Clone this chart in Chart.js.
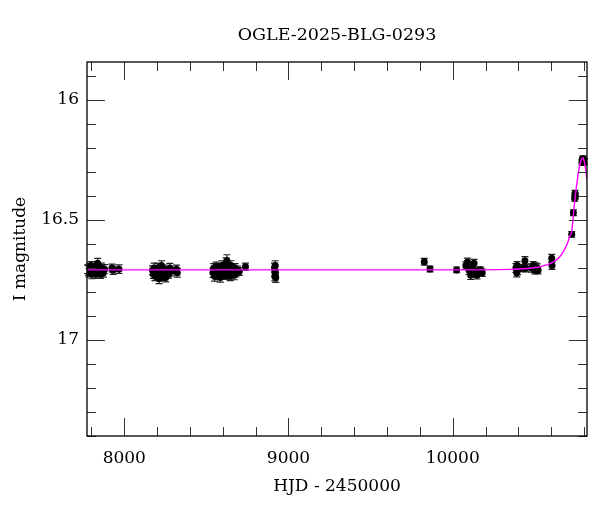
<!DOCTYPE html>
<html>
<head>
<meta charset="utf-8">
<script src="https://cdn.jsdelivr.net/npm/chart.js@4.4.1/dist/chart.umd.min.js"></script>
<style>
  html, body { margin: 0; padding: 0; background: #fff; }
  #wrap { width: 600px; height: 512px; }
</style>
</head>
<body>
<div id="wrap"><canvas id="lightCurve"></canvas></div>
<script>
// Curva de luz OGLE-2025-BLG-0293

// HJD - 2450000 das medidas
const hjd = [
    // temporada 2017
    7777, 7781, 7786, 7790, 7794, 7798, 7802, 7806, 7810, 7814, 7818, 7822, 7826, 7830,
    7834, 7838, 7842, 7846, 7850, 7855, 7860, 7866, 7872, 7880, 7925, 7932, 7968,
    // temporada 2018
    8172, 8177, 8182, 8187, 8192, 8197, 8202, 8207, 8212, 8217, 8222, 8227, 8232, 8237,
    8242, 8247, 8252, 8258, 8264, 8270, 8278, 8286, 8318, 8323,
    // temporada 2019
    8540, 8545, 8550, 8555, 8560, 8565, 8570, 8575, 8580, 8585, 8590, 8595, 8600, 8605,
    8610, 8615, 8620, 8625, 8630, 8635, 8640, 8645, 8650, 8655, 8660, 8665, 8670, 8675,
    8680, 8690, 8700, 8738,
    // temporada 2020
    8915, 8917, 8918, 8919, 8920, 8922,
    // 2022 - 2025
    9827, 9862, 10024, 10080, 10090, 10100, 10110, 10120, 10130, 10140, 10148, 10160, 10171, 10180,
    10385, 10390, 10392, 10395, 10430, 10440, 10445, 10480, 10490, 10500, 10505, 10515, 10520,
    10603, 10605, 10725, 10735, 10743, 10745, 10747, 10787, 10790, 10793, 10796, 10799, 10802
];

// magnitude I
const imag = [
    16.705, 16.71, 16.72, 16.70, 16.715, 16.69, 16.725, 16.70, 16.71, 16.72, 16.70, 16.715, 16.725, 16.69,
    16.71, 16.68, 16.70, 16.72, 16.71, 16.725, 16.70, 16.715, 16.72, 16.705, 16.70, 16.71, 16.705,
    16.71, 16.725, 16.70, 16.735, 16.715, 16.72, 16.70, 16.73, 16.745, 16.71, 16.725, 16.69, 16.72, 16.735,
    16.705, 16.73, 16.74, 16.715, 16.72, 16.725, 16.70, 16.715, 16.705, 16.72,
    16.72, 16.70, 16.735, 16.71, 16.695, 16.73, 16.715, 16.70, 16.72, 16.74, 16.705, 16.69, 16.725, 16.70,
    16.715, 16.73, 16.68, 16.67, 16.71, 16.725, 16.70, 16.735, 16.69, 16.72, 16.705, 16.715, 16.73, 16.70,
    16.72, 16.71, 16.715, 16.695,
    16.70, 16.735, 16.715, 16.69, 16.725, 16.74,
    16.674, 16.704, 16.708, 16.69, 16.675, 16.71, 16.73, 16.70, 16.68, 16.72, 16.73, 16.71, 16.71, 16.72,
    16.70, 16.72, 16.69, 16.71, 16.70, 16.67, 16.70, 16.70, 16.69, 16.71, 16.695, 16.70, 16.71,
    16.66, 16.69, 16.56, 16.47, 16.41, 16.39, 16.40, 16.26, 16.25, 16.245, 16.25, 16.26, 16.255
];

// erro da magnitude
const ierr = [
    0.018, 0.020, 0.017, 0.019, 0.018, 0.016, 0.020, 0.018, 0.019, 0.017, 0.018, 0.020, 0.018, 0.017,
    0.019, 0.020, 0.018, 0.017, 0.019, 0.018, 0.020, 0.017, 0.018, 0.019, 0.016, 0.017, 0.018,
    0.019, 0.018, 0.020, 0.018, 0.017, 0.021, 0.019, 0.018, 0.020, 0.017, 0.018, 0.020, 0.019, 0.018,
    0.017, 0.019, 0.018, 0.020, 0.018, 0.017, 0.019, 0.018, 0.017, 0.018,
    0.019, 0.018, 0.020, 0.017, 0.019, 0.018, 0.020, 0.018, 0.017, 0.019, 0.018, 0.020, 0.018, 0.019,
    0.017, 0.018, 0.022, 0.025, 0.018, 0.019, 0.017, 0.018, 0.020, 0.019, 0.018, 0.017, 0.019, 0.018,
    0.017, 0.018, 0.016, 0.015,
    0.020, 0.019, 0.021, 0.020, 0.019, 0.020,
    0.014, 0.012, 0.012, 0.015, 0.016, 0.017, 0.018, 0.015, 0.016, 0.017, 0.016, 0.015, 0.014, 0.015,
    0.018, 0.017, 0.016, 0.018, 0.015, 0.017, 0.016, 0.017, 0.016, 0.015, 0.016, 0.017, 0.015,
    0.017, 0.016, 0.012, 0.012, 0.012, 0.013, 0.012, 0.011, 0.011, 0.012, 0.011, 0.012, 0.011
];

// modelo de microlente (curva magenta)
const modelHjd = [7773, 10200, 10350, 10450, 10530, 10600, 10650, 10680, 10700, 10715, 10725,
    10735, 10745, 10755, 10765, 10775, 10783, 10789, 10793, 10797, 10803, 10810, 10818];
const modelMag = [16.708, 16.708, 16.706, 16.702, 16.695, 16.68, 16.655, 16.625, 16.595, 16.565, 16.55,
    16.48, 16.41, 16.355, 16.305, 16.268, 16.25, 16.243, 16.242, 16.246, 16.262, 16.29, 16.33];

// marcas dos eixos
const xMajorTicks = [8000, 9000, 10000];
const yMajorTicks = [16, 16.5, 17];
const xMinorTicks = [7800, 8200, 8400, 8600, 8800, 9200, 9400, 9600, 9800, 10200, 10400, 10600, 10800];
const yMinorTicks = [15.9, 16.1, 16.2, 16.3, 16.4, 16.6, 16.7, 16.8, 16.9, 17.1, 17.2, 17.3, 17.4];

const xRange = [7773, 10818];
const yRange = [15.842, 17.4];

const serif = 'DejaVu Serif';

// Plugin: barras de erro
const errorBars = {
    id: 'errorBars',
    beforeDatasetsDraw(chart) {
        const { ctx, scales: { x, y } } = chart;
        ctx.save();
        ctx.strokeStyle = '#222';
        ctx.lineWidth = 1.2;
        hjd.forEach((t, i) => {
            const px = x.getPixelForValue(t);
            const y1 = y.getPixelForValue(imag[i] - ierr[i]);
            const y2 = y.getPixelForValue(imag[i] + ierr[i]);
            ctx.beginPath();
            ctx.moveTo(px, y1); ctx.lineTo(px, y2);
            ctx.moveTo(px - 3.5, y1); ctx.lineTo(px + 3.5, y1);
            ctx.moveTo(px - 3.5, y2); ctx.lineTo(px + 3.5, y2);
            ctx.stroke();
        });
        ctx.restore();
    }
};

// Plugin: moldura e marcas internas
const frameTicks = {
    id: 'frameTicks',
    afterDraw(chart) {
        const { ctx, chartArea: a, scales: { x, y } } = chart;
        ctx.save();
        ctx.strokeStyle = '#333';
        ctx.lineWidth = 1;
        const xTick = (v, len) => {
            const p = Math.round(x.getPixelForValue(v)) + 0.5;
            ctx.beginPath();
            ctx.moveTo(p, a.bottom); ctx.lineTo(p, a.bottom - len);
            ctx.moveTo(p, a.top); ctx.lineTo(p, a.top + len);
            ctx.stroke();
        };
        const yTick = (v, len) => {
            const p = Math.round(y.getPixelForValue(v)) + 0.5;
            ctx.beginPath();
            ctx.moveTo(a.left, p); ctx.lineTo(a.left + len, p);
            ctx.moveTo(a.right, p); ctx.lineTo(a.right - len, p);
            ctx.stroke();
        };
        xMajorTicks.forEach(v => xTick(v, 18));
        xMinorTicks.forEach(v => xTick(v, 9));
        yMajorTicks.forEach(v => yTick(v, 18));
        yMinorTicks.forEach(v => yTick(v, 9));
        ctx.strokeStyle = '#000';
        ctx.lineWidth = 1.3;
        ctx.strokeRect(a.left, a.top, a.right - a.left, a.bottom - a.top);
        ctx.restore();
    }
};

const ctx = document.getElementById('lightCurve').getContext('2d');
const lightCurve = new Chart(ctx, {
    type: 'scatter',
    data: {
        datasets: [
            {
                label: 'modelo',
                type: 'line',
                data: modelHjd.map((t, i) => ({ x: t, y: modelMag[i] })),
                borderColor: '#ff00ff',
                borderWidth: 1.4,
                pointRadius: 0,
                fill: false,
                cubicInterpolationMode: 'monotone',
                order: 0
            },
            {
                label: 'OGLE',
                data: hjd.map((t, i) => ({ x: t, y: imag[i] })),
                backgroundColor: '#000',
                borderColor: '#000',
                pointRadius: 3.5,
                borderWidth: 0,
                order: 1
            }
        ]
    },
    options: {
        responsive: true,
        maintainAspectRatio: false,
        animation: false,
        layout: { padding: { left: 0, right: 13, top: 0, bottom: 0 } },
        plugins: {
            legend: { display: false },
            tooltip: { enabled: false },
            title: {
                display: true,
                fullSize: false,
                text: 'OGLE-2025-BLG-0293',
                color: '#000',
                font: { family: serif, size: 17.5, weight: 'normal', lineHeight: 1.2 },
                padding: { top: 25, bottom: 16 }
            }
        },
        scales: {
            x: {
                type: 'linear',
                min: xRange[0],
                max: xRange[1],
                grid: { display: false, drawTicks: false },
                border: { display: false },
                afterBuildTicks: s => { s.ticks = xMajorTicks.map(v => ({ value: v })); },
                afterFit: s => { s.height = 76; },
                ticks: {
                    color: '#000',
                    padding: 12,
                    maxRotation: 0,
                    font: { family: serif, size: 17 },
                    callback: v => String(v)
                },
                title: {
                    display: true,
                    text: 'HJD - 2450000',
                    color: '#000',
                    font: { family: serif, size: 17 },
                    padding: { top: 15, bottom: 15 }
                }
            },
            y: {
                type: 'linear',
                reverse: true,
                min: yRange[0],
                max: yRange[1],
                grid: { display: false, drawTicks: false },
                border: { display: false },
                afterBuildTicks: s => { s.ticks = yMajorTicks.map(v => ({ value: v })); },
                afterFit: s => { s.width = 87; },
                ticks: {
                    color: '#000',
                    padding: 8,
                    font: { family: serif, size: 17 },
                    callback: v => String(v)
                },
                title: {
                    display: true,
                    text: 'I magnitude',
                    color: '#000',
                    font: { family: serif, size: 17 },
                    padding: { top: 10, bottom: 10 }
                }
            }
        }
    },
    plugins: [errorBars, frameTicks]
});
</script>
</body>
</html>
